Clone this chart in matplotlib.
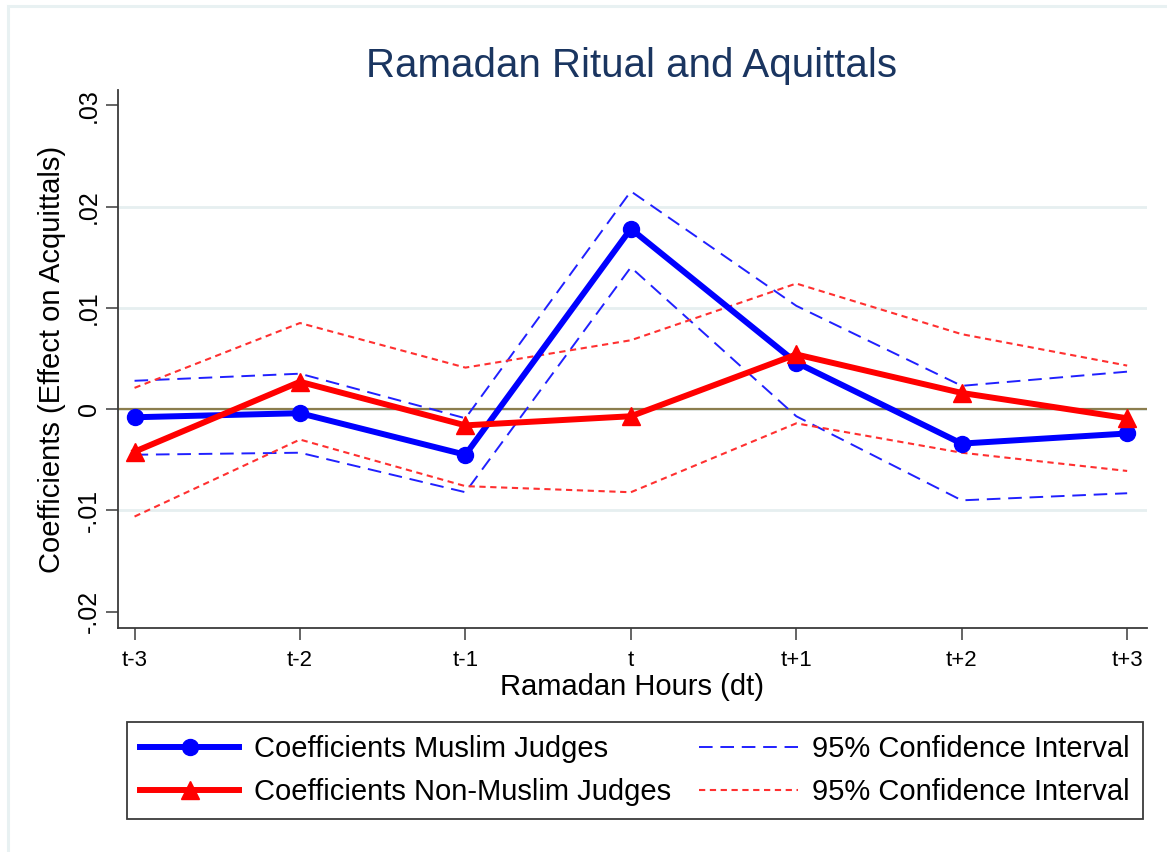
import numpy as np
import matplotlib
matplotlib.use("Agg")
import matplotlib.pyplot as plt
from matplotlib.patches import Rectangle

# =============================
# Data
# =============================
periods = ["t-3", "t-2", "t-1", "t", "t+1", "t+2", "t+3"]
hours = np.arange(-3, 4)

muslim = [-0.0008, -0.0004, -0.0045, 0.0178, 0.0046, -0.0034, -0.0024]
muslim_hi = [0.0028, 0.0035, -0.0009, 0.0215, 0.0102, 0.0023, 0.0037]
muslim_lo = [-0.0045, -0.0043, -0.0082, 0.0140, -0.0007, -0.0090, -0.0083]

nonmuslim = [-0.0042, 0.0027, -0.0016, -0.0007, 0.0054, 0.0016, -0.0009]
nonmuslim_hi = [0.0021, 0.0085, 0.0041, 0.0068, 0.0124, 0.0074, 0.0043]
nonmuslim_lo = [-0.0106, -0.0030, -0.0076, -0.0082, -0.0014, -0.0043, -0.0061]

yticks = [-0.02, -0.01, 0.0, 0.01, 0.02, 0.03]
ytick_labels = ["-.02", "-.01", "0", ".01", ".02", ".03"]

# =============================
# Style
# =============================
plt.rcParams["font.family"] = ["Liberation Sans", "DejaVu Sans"]
W, H = 1167, 852
fig = plt.figure(figsize=(W / 100, H / 100), dpi=100)
fig.patch.set_facecolor("white")

# faint outer frame (graph region)
fig.patches.append(Rectangle((8 / W, 1 - 1000 / H), 1200 / W, (1000 - 6) / H,
                             transform=fig.transFigure, fill=False,
                             edgecolor="#e8f1f2", linewidth=2.2))

ax = fig.add_axes([118 / W, 1 - 628 / H, (1147 - 118) / W, (628 - 90) / H])
ax.set_xlim(-3.1, 3.12)
ax.set_ylim(-0.0216, 0.0315)

for s in ["top", "right"]:
    ax.spines[s].set_visible(False)
for s in ["left", "bottom"]:
    ax.spines[s].set_color("#3a3a3a")
    ax.spines[s].set_linewidth(1.3)

ax.set_yticks(yticks)
ax.set_yticklabels(ytick_labels, rotation=90, va="center", fontsize=18)
ax.set_xticks(hours)
ax.set_xticklabels(periods, fontsize=16)
ax.tick_params(axis="both", direction="out", length=8.5, width=1.1,
               color="#3a3a3a", labelcolor="black")
ax.tick_params(axis="y", pad=4)
ax.tick_params(axis="x", pad=7)

# grid only on interior ticks
ax.yaxis.grid(True, color="#e6eff0", linewidth=2.0)
ax.set_axisbelow(True)
ticks = ax.yaxis.get_major_ticks()
ticks[0].gridline.set_visible(False)
ticks[-1].gridline.set_visible(False)

ax.axhline(0, color="#8b7d4e", linewidth=1.6, zorder=1)

# =============================
# Series
# =============================
ax.plot(hours, muslim_hi, color="#2020ff", lw=1.4, ls=(0, (7, 4)), zorder=2)
ax.plot(hours, muslim_lo, color="#2020ff", lw=1.4, ls=(0, (7, 4)), zorder=2)
ax.plot(hours, nonmuslim_hi, color="#ff3030", lw=1.5, ls=(0, (3, 2.2)), zorder=2)
ax.plot(hours, nonmuslim_lo, color="#ff3030", lw=1.5, ls=(0, (3, 2.2)), zorder=2)

l1, = ax.plot(hours, muslim, color="#0000ff", lw=4.3, marker="o", ms=11.5,
              zorder=3)
l2, = ax.plot(hours, nonmuslim, color="#ff0000", lw=4.3, marker="^", ms=12.5,
              zorder=4)

# legend handles
h_ci_b, = ax.plot([], [], color="#2020ff", lw=1.4, ls=(0, (7, 4)))
h_ci_r, = ax.plot([], [], color="#ff3030", lw=1.5, ls=(0, (3, 2.2)))

# =============================
# Text
# =============================
fig.text(632 / W, 1 - 77 / H, "Ramadan Ritual and Aquittals", ha="center",
         va="baseline", fontsize=29, color="#1a3560")
ax.set_xlabel("Ramadan Hours (dt)", fontsize=21, labelpad=2)
ax.set_ylabel("Coefficients (Effect on Acquittals)", fontsize=21, labelpad=8)

leg = fig.legend([l1, l2, h_ci_b, h_ci_r],
                 ["Coefficients Muslim Judges", "Coefficients Non-Muslim Judges",
                  "95% Confidence Interval", "95% Confidence Interval"],
                 ncol=2, loc="upper center", mode="expand",
                 bbox_to_anchor=(127 / W, 1 - 722 / H, (1143 - 127) / W, 0.0),
                 bbox_transform=fig.transFigure, borderaxespad=0,
                 fontsize=21, handlelength=3.4, handletextpad=0.5,
                 labelspacing=0.5, borderpad=0.45, fancybox=False,
                 framealpha=1, edgecolor="#3a3a3a")
leg.get_frame().set_linewidth(1.3)

fig.savefig("out.png", dpi=100)
